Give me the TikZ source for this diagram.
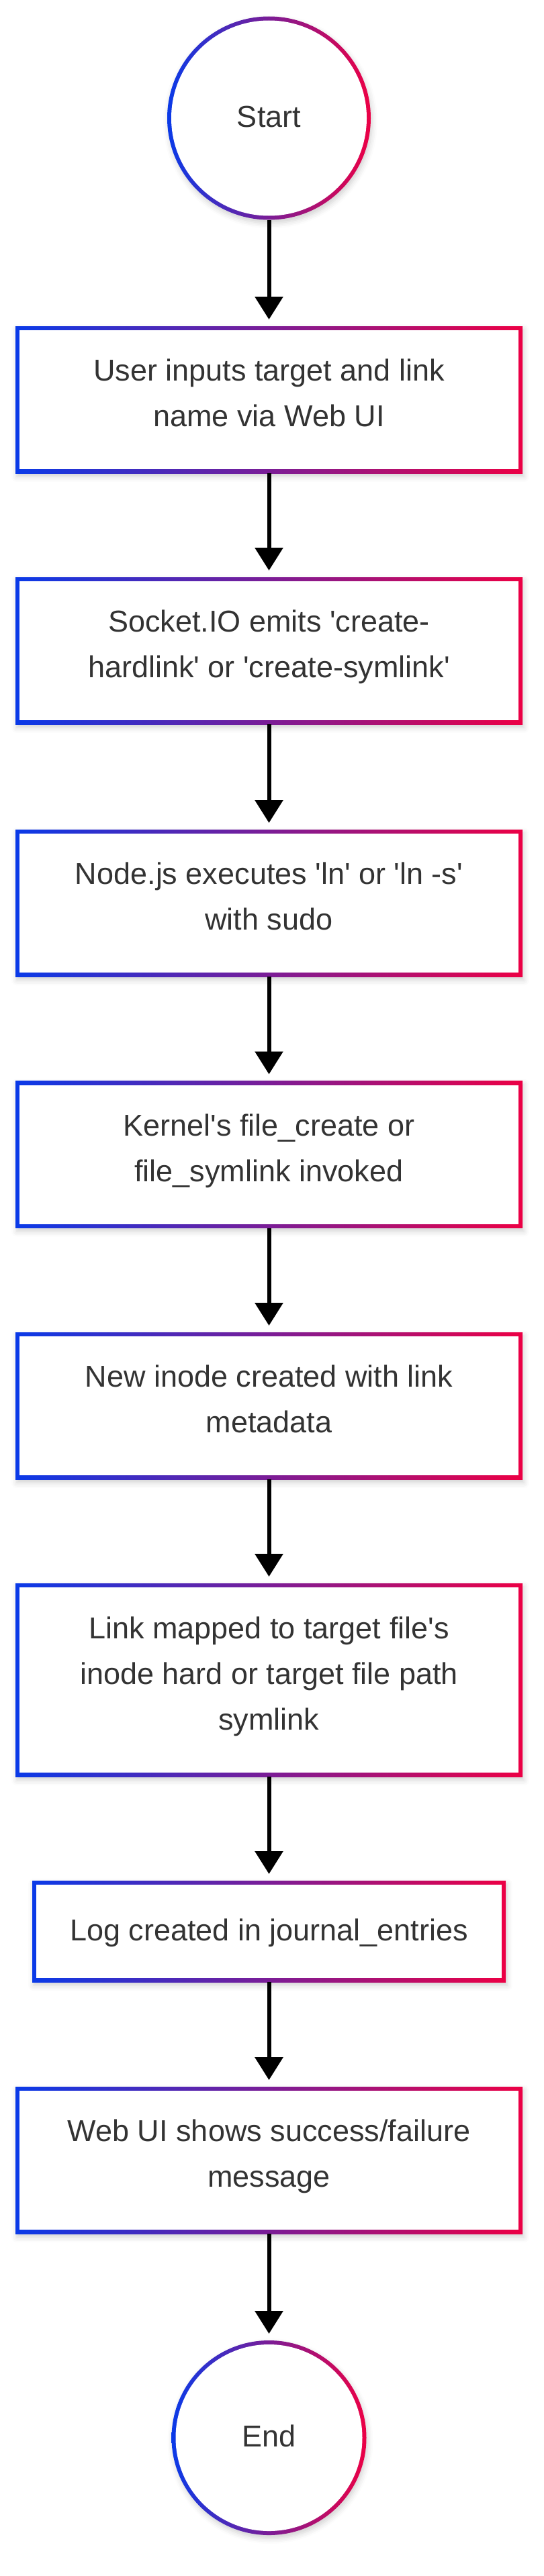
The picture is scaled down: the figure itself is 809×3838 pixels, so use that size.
\documentclass[tikz,border=0pt]{standalone}
\usepackage{fontspec}
\setmainfont{Liberation Sans}[Ligatures=TeXOff]
\usetikzlibrary{arrows.meta,calc,shadows.blur}

\definecolor{flowblue}{HTML}{0A3AE8}
\definecolor{flowred}{HTML}{EC0045}
\definecolor{flowtext}{HTML}{333333}

\begin{document}
\begin{tikzpicture}[
  x=0.5pt,
  y=0.5pt,
  font=\fontsize{22.5}{34}\selectfont,
  >={Triangle[length=17pt,width=20.5pt]},
  gradrim/.style={left color=flowblue, right color=flowred, text=flowtext, outer sep=0pt,
    blur shadow={shadow xshift=1pt, shadow yshift=-2.5pt, shadow blur radius=4pt, shadow opacity=18},
    execute at begin node=\strut, execute at end node=\strut},
  flowstep/.style={gradrim, rectangle, align=center, minimum width=377.5pt, minimum height=109.5pt,
    path picture={\fill[white] ([shift={(3pt,3pt)}]path picture bounding box.south west)
      rectangle ([shift={(-3pt,-3pt)}]path picture bounding box.north east);}},
  terminal/.style={gradrim, circle, inner sep=0pt,
    path picture={\fill[white] let \p1=($(path picture bounding box.east)-(path picture bounding box.center)$)
      in (path picture bounding box.center) circle (\x1-3pt);}},
  link/.style={->, line width=3pt, shorten >=5pt}
]
  \useasboundingbox (0,0) rectangle (809,-3838);

  \node[terminal, minimum size=151.5pt] (start) at (400.5,-176) {Start};

  \node[flowstep] (input) at (400.5,-595.5) {User inputs target and link\\name via Web UI};
  \node[flowstep] (emit) at (400.5,-969.5) {Socket.IO emits 'create-\\hardlink' or 'create-symlink'};
  \node[flowstep] (exec) at (400.5,-1345.5) {Node.js executes 'ln' or 'ln -s'\\with sudo};
  \node[flowstep] (kernel) at (400.5,-1720) {Kernel's file\_create or\\file\_symlink invoked};
  \node[flowstep] (inode) at (400.5,-2094.5) {New inode created with link\\metadata};
  \node[flowstep, minimum height=144pt] (mapped) at (400.5,-2503) {Link mapped to target file's\\inode hard or target file path\\symlink};
  \node[flowstep, minimum width=352.5pt, minimum height=75.5pt] (journal) at (400.5,-2877.5) {Log created in journal\_entries};
  \node[flowstep] (result) at (400.5,-3218.5) {Web UI shows success/failure\\message};

  \node[terminal, minimum size=145pt] (stop) at (400.5,-3632) {End};

  \draw[link] (start) -- (input);
  \draw[link] (input) -- (emit);
  \draw[link] (emit) -- (exec);
  \draw[link] (exec) -- (kernel);
  \draw[link] (kernel) -- (inode);
  \draw[link] (inode) -- (mapped);
  \draw[link] (mapped) -- (journal);
  \draw[link] (journal) -- (result);
  \draw[link] (result) -- (stop);
\end{tikzpicture}
\end{document}
